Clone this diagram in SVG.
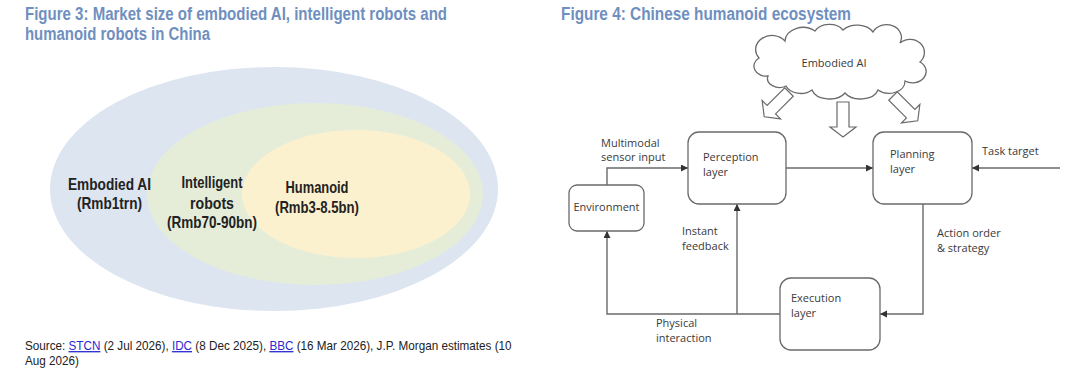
<svg xmlns="http://www.w3.org/2000/svg" width="1080" height="379" viewBox="0 0 1080 379">
<style>
.title{font-family:'Liberation Sans Narrow','Liberation Sans',Arial,sans-serif;font-weight:bold;font-size:17.5px;fill:#6f8fc0}
.elab{font-family:'Liberation Sans Narrow','Liberation Sans',Arial,sans-serif;font-weight:bold;font-size:16.5px;fill:#222;text-anchor:middle}
.src{font-family:'Liberation Sans',Arial,sans-serif;font-size:13px;fill:#222}
.link{fill:#2a2ad0;text-decoration:underline}
.lbl{font-family:'Open Sans','Liberation Sans',sans-serif;font-size:11px;fill:#3a3a3a}
.box{fill:#fff;stroke:#6a6a6a;stroke-width:1.3}
.conn{fill:none;stroke:#6a6a6a;stroke-width:1.4}
.barrow{fill:#fff;stroke:#6a6a6a;stroke-width:1.2;stroke-linejoin:miter}
</style>
<defs>
<marker id="ah" markerUnits="userSpaceOnUse" markerWidth="8" markerHeight="8" refX="7" refY="3.5" orient="auto">
<path d="M0,0 L7,3.5 L0,7 z" fill="#333"/>
</marker>
</defs>
<rect width="1080" height="379" fill="#fff"/>

<!-- Figure 3 -->
<g id="fig3-title">
<text class="title" x="25" y="20" textLength="422" lengthAdjust="spacingAndGlyphs">Figure 3: Market size of embodied AI, intelligent robots and</text>
<text class="title" x="25" y="40" textLength="185" lengthAdjust="spacingAndGlyphs">humanoid robots in China</text>
</g>
<g id="ellipses">
<ellipse id="embodied-ai-shape" cx="274" cy="189" rx="224" ry="122" fill="#dde5f1"/>
<ellipse id="intelligent-robots-shape" cx="315" cy="194" rx="168" ry="91" fill="#e5edd9"/>
<ellipse id="humanoid-shape" cx="356" cy="194" rx="114" ry="64" fill="#fcf1cf"/>
</g>
<g id="embodied-ai">
<text class="elab" x="109.5" y="190" textLength="83" lengthAdjust="spacingAndGlyphs">Embodied AI</text>
<text class="elab" x="109.5" y="209" textLength="65" lengthAdjust="spacingAndGlyphs">(Rmb1trn)</text>
</g>
<g id="intelligent-robots">
<text class="elab" x="212" y="188" textLength="61" lengthAdjust="spacingAndGlyphs">Intelligent</text>
<text class="elab" x="212" y="209" textLength="44" lengthAdjust="spacingAndGlyphs">robots</text>
<text class="elab" x="212" y="228" textLength="90" lengthAdjust="spacingAndGlyphs">(Rmb70-90bn)</text>
</g>
<g id="humanoid">
<text class="elab" x="317" y="193" textLength="63" lengthAdjust="spacingAndGlyphs">Humanoid</text>
<text class="elab" x="317" y="213" textLength="84" lengthAdjust="spacingAndGlyphs">(Rmb3-8.5bn)</text>
</g>
<g id="source">
<text class="src" transform="translate(25,350) scale(0.9,1)" x="0" y="0">Source: <tspan class="link">STCN</tspan> (2 Jul 2026), <tspan class="link">IDC</tspan> (8 Dec 2025), <tspan class="link">BBC</tspan> (16 Mar 2026), J.P. Morgan estimates (10</text>
<text class="src" transform="translate(25,365) scale(0.9,1)" x="0" y="0">Aug 2026)</text>
</g>

<!-- Figure 4 -->
<g id="fig4-title">
<text class="title" x="561" y="20" textLength="290" lengthAdjust="spacingAndGlyphs">Figure 4: Chinese humanoid ecosystem</text>
</g>
<g id="cloud">
<path class="box" d="M768,76 A12,10 0 0 1 759,58 A14,12 0 0 1 785,41 A18,14 0 0 1 815,31 A16,12 0 0 1 843,30 A18,13 0 0 1 873,32 A14,12 0 0 1 900,43 A12,11 0 0 1 920,62 A12,10 0 0 1 905,81 A16,12 0 0 1 878,90 A18,12 0 0 1 845,93 A18,12 0 0 1 812,90 A16,12 0 0 1 786,86 A12,9 0 0 1 768,76 Z"/>
<text class="lbl" x="834" y="67" text-anchor="middle">Embodied AI</text>
</g>
<g id="block-arrows">
<polygon class="barrow" transform="translate(789,92) rotate(45)" points="-6,0 6,0 6,25 13,25 0,35 -13,25 -6,25"/>
<polygon class="barrow" transform="translate(843,102)" points="-6,0 6,0 6,25 13,25 0,35 -13,25 -6,25"/>
<polygon class="barrow" transform="translate(893,96) rotate(-45)" points="-6,0 6,0 6,25 13,25 0,35 -13,25 -6,25"/>
</g>
<g id="connectors">
<path class="conn" d="M607,185 V168 H688" marker-end="url(#ah)"/>
<path class="conn" d="M786,168 H873" marker-end="url(#ah)"/>
<path class="conn" d="M1060,168 H972" marker-end="url(#ah)"/>
<path class="conn" d="M923,204 V314 H880" marker-end="url(#ah)"/>
<path class="conn" d="M780,314 H607 V231" marker-end="url(#ah)"/>
<path class="conn" d="M737,314 V204" marker-end="url(#ah)"/>
</g>
<g id="environment">
<rect class="box" x="569" y="185" width="75" height="46" rx="8"/>
<text class="lbl" x="606.5" y="211" text-anchor="middle">Environment</text>
</g>
<g id="perception">
<rect class="box" x="688" y="132" width="98" height="72" rx="11"/>
<text class="lbl" x="703" y="161">Perception</text>
<text class="lbl" x="703" y="176">layer</text>
</g>
<g id="planning">
<rect class="box" x="873" y="132" width="99" height="72" rx="11"/>
<text class="lbl" x="890" y="158">Planning</text>
<text class="lbl" x="890" y="173">layer</text>
</g>
<g id="execution">
<rect class="box" x="780" y="278" width="100" height="72" rx="11"/>
<text class="lbl" x="791" y="302">Execution</text>
<text class="lbl" x="791" y="317">layer</text>
</g>
<g id="labels">
<text class="lbl" x="601" y="147">Multimodal</text>
<text class="lbl" x="601" y="161">sensor input</text>
<text class="lbl" x="982" y="155">Task target</text>
<text class="lbl" x="682" y="235">Instant</text>
<text class="lbl" x="682" y="250">feedback</text>
<text class="lbl" x="937" y="237">Action order</text>
<text class="lbl" x="937" y="252">&amp; strategy</text>
<text class="lbl" x="656" y="327">Physical</text>
<text class="lbl" x="656" y="342">interaction</text>
</g>
</svg>
